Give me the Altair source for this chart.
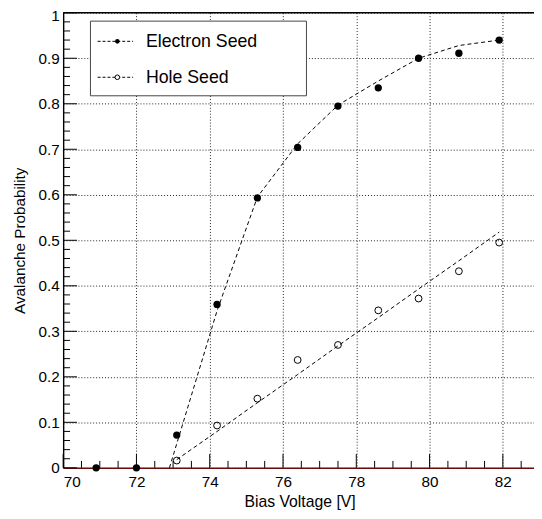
import altair as alt
import pandas as pd

FONT = "Liberation Sans"

# ---- data ----
electron_voltage = [70.9, 72.0, 73.1, 74.2, 75.3, 76.4, 77.5, 78.6, 79.7, 80.8, 81.9]
electron_prob = [0.0, 0.0, 0.072, 0.359, 0.593, 0.704, 0.795, 0.835, 0.900, 0.911, 0.940]

hole_voltage = [73.1, 74.2, 75.3, 76.4, 77.5, 78.6, 79.7, 80.8, 81.9]
hole_prob = [0.016, 0.093, 0.152, 0.237, 0.270, 0.346, 0.372, 0.432, 0.495]

electron_fit_voltage = [72.9, 73.1, 74.2, 75.3, 76.4, 77.5, 78.6, 79.7, 80.8, 81.9]
electron_fit_prob = [0.0, 0.053, 0.345, 0.595, 0.712, 0.797, 0.850, 0.900, 0.928, 0.940]

hole_fit_voltage = [73.1, 74.2, 75.3, 76.4, 77.5, 78.6, 79.7, 80.8, 81.9]
hole_fit_prob = [0.018, 0.080, 0.143, 0.205, 0.268, 0.330, 0.393, 0.455, 0.518]

legend_labels = ["Electron Seed", "Hole Seed"]

# axis ticks
x_labels = [70, 72, 74, 76, 78, 80, 82]
x_minor = [v / 2 for v in range(140, 166) if v % 4 != 0]
y_labels = [round(i * 0.1, 1) for i in range(11)]
y_minor = [round(i * 0.02, 2) for i in range(51) if i % 5 != 0]

W, H = 478, 462
X_DOMAIN = [70, 82.85]

xs = alt.Scale(domain=X_DOMAIN, nice=False, zero=False)
ys = alt.Scale(domain=[0, 1], nice=False, zero=False)

el = pd.DataFrame({"v": electron_voltage, "p": electron_prob})
ho = pd.DataFrame({"v": hole_voltage, "p": hole_prob})
elf = pd.DataFrame({"v": electron_fit_voltage, "p": electron_fit_prob})
hof = pd.DataFrame({"v": hole_fit_voltage, "p": hole_fit_prob})

x_axis = alt.Axis(
    values=x_labels, format="~g", grid=True, gridDash=[1, 2], gridColor="#222",
    gridWidth=1, ticks=False, labelPadding=7, labelFontSize=15.5, labelFont=FONT,
    labelColor="black", domainColor="#6a0c0c", domainWidth=1.6,
    title="Bias Voltage [V]", titleFont=FONT, titleFontSize=16, titleFontWeight="normal",
    titleColor="black", titleX=240, titleY=34, titleBaseline="middle",
)
y_axis = alt.Axis(
    values=y_labels, format="~g", grid=True, gridDash=[1, 2], gridColor="#222",
    gridWidth=1, ticks=False, labelPadding=4, labelFontSize=15.5, labelFont=FONT,
    labelColor="black", labelBaseline="middle", domainColor="black", domainWidth=1.4,
    labelOffset={"condition": {"test": "datum.value >= 1", "value": 3}, "value": 0},
    title="Avalanche Probability", titleFont=FONT, titleFontSize=15.5,
    titleFontWeight="normal", titleColor="black", titleX=-44, titleY=231,
    titleBaseline="middle", titleAlign="center",
)

base_axes = alt.Chart(el).mark_point(opacity=0).encode(
    x=alt.X("v:Q", scale=xs, axis=x_axis),
    y=alt.Y("p:Q", scale=ys, axis=y_axis),
)

top_rule = alt.Chart(pd.DataFrame({"a": [0]})).mark_rule(color="black", strokeWidth=1.5).encode(
    y=alt.datum(1, scale=ys)
)

# inward ticks
ymin = alt.Chart(pd.DataFrame({"t": y_minor})).mark_rule(color="black", strokeWidth=1).encode(
    y=alt.Y("t:Q", scale=ys), x=alt.value(0), x2=alt.value(7)
)
ymaj = alt.Chart(pd.DataFrame({"t": y_labels})).mark_rule(color="black", strokeWidth=1).encode(
    y=alt.Y("t:Q", scale=ys), x=alt.value(0), x2=alt.value(14)
)
xmin = alt.Chart(pd.DataFrame({"t": x_minor})).mark_rule(color="black", strokeWidth=1).encode(
    x=alt.X("t:Q", scale=xs), y=alt.value(H), y2=alt.value(H - 7)
)
xmaj = alt.Chart(pd.DataFrame({"t": x_labels})).mark_rule(color="black", strokeWidth=1).encode(
    x=alt.X("t:Q", scale=xs), y=alt.value(H), y2=alt.value(H - 14)
)

el_fit = alt.Chart(elf).mark_line(color="black", strokeDash=[4, 3], strokeWidth=1).encode(
    x=alt.X("v:Q", scale=xs), y=alt.Y("p:Q", scale=ys)
)
ho_fit = alt.Chart(hof).mark_line(color="black", strokeDash=[4, 3], strokeWidth=1).encode(
    x=alt.X("v:Q", scale=xs), y=alt.Y("p:Q", scale=ys)
)

el_pts = alt.Chart(el).mark_point(shape="circle", filled=True, size=55, color="black", opacity=1).encode(
    x=alt.X("v:Q", scale=xs), y=alt.Y("p:Q", scale=ys)
)
ho_pts = alt.Chart(ho).mark_point(shape="circle", filled=False, size=48, color="black",
                                  strokeWidth=1, opacity=1).encode(
    x=alt.X("v:Q", scale=xs), y=alt.Y("p:Q", scale=ys)
)

# legend
leg_box = alt.Chart(pd.DataFrame({"a": [0]})).mark_rect(
    fill="white", stroke="#444", strokeWidth=1
).encode(x=alt.value(27.7), x2=alt.value(247), y=alt.value(8.5), y2=alt.value(84.3))


def legend_entry(label, ypx, filled):
    d = pd.DataFrame({"label": [label]})
    line = alt.Chart(d).mark_rule(color="black", strokeDash=[3, 2], strokeWidth=1).encode(
        x=alt.value(35), x2=alt.value(71), y=alt.value(ypx)
    )
    pt = alt.Chart(d).mark_point(
        shape="circle", filled=filled, size=22, color="black", strokeWidth=1, opacity=1,
        fill="black" if filled else "white",
    ).encode(x=alt.value(55), y=alt.value(ypx))
    txt = alt.Chart(d).mark_text(
        align="left", baseline="middle", font=FONT, fontSize=18, color="black"
    ).encode(x=alt.value(84), y=alt.value(ypx + 0.5), text="label:N")
    return [line, pt, txt]


legend_layers = [leg_box] + legend_entry(legend_labels[0], 29, True) + legend_entry(legend_labels[1], 65.5, False)

chart = alt.layer(
    base_axes, top_rule, ymin, ymaj, xmin, xmaj, el_fit, ho_fit, el_pts, ho_pts, *legend_layers
).properties(
    width=W, height=H,
    padding={"left": 56, "top": 1, "right": 0, "bottom": 40},
    autosize=alt.AutoSizeParams(type="none"),
    background="white",
).configure_view(stroke=None)

chart.save("out.html", embed_options={"renderer": "svg", "actions": False})
